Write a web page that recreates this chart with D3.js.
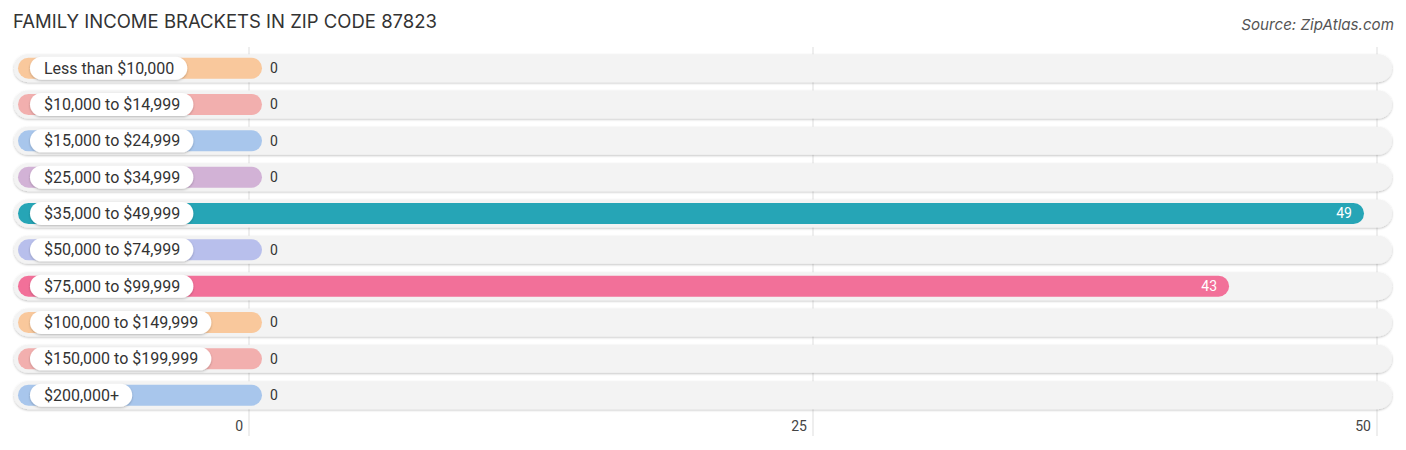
<!DOCTYPE html>
<html>
<head>
<meta charset="utf-8">
<script src="https://cdn.jsdelivr.net/npm/d3@7"></script>
<style>
  body { margin: 0; background: #fff; }
  svg { display: block; }
</style>
</head>
<body>
<svg id="chart"></svg>
<script>
const categories = [
  "Less than $10,000",
  "$10,000 to $14,999",
  "$15,000 to $24,999",
  "$25,000 to $34,999",
  "$35,000 to $49,999",
  "$50,000 to $74,999",
  "$75,000 to $99,999",
  "$100,000 to $149,999",
  "$150,000 to $199,999",
  "$200,000+"
]
const values = [0, 0, 0, 0, 49, 0, 43, 0, 0, 0]
const colors = ["#f9c89c", "#f2afae", "#a8c6ec", "#d2b2d6", "#26a5b6",
                "#b8bfec", "#f27099", "#f9c89c", "#f2afae", "#a8c6ec"]
const ticks = [0, 25, 50]

const W = 1406, H = 450

const svg = d3.select("#chart").attr("width", W).attr("height", H)

const defs = svg.append("defs")
const sh = defs.append("filter").attr("id", "shadow")
  .attr("x", "-5%").attr("y", "-40%").attr("width", "110%").attr("height", "180%")
sh.append("feDropShadow").attr("dx", 0).attr("dy", 1).attr("stdDeviation", 1.2)
  .attr("flood-color", "#000").attr("flood-opacity", 0.25)

// grid scale and bar scale (bars start a little right of the zero line)
const x = d3.scaleLinear().domain([0, 50]).range([249, 1377])
const xb = d3.scaleLinear().domain([0, 50]).range([262, 1386.5])
const y = d3.scaleBand().domain(categories).range([50, 413.3])

// fit a text node to a target width by adjusting its font size
function fitWidth(sel, target) {
  const fs = +sel.attr("font-size")
  const w = sel.node().getComputedTextLength()
  sel.attr("font-size", fs * target / w)
}

// title + source
svg.append("text")
  .attr("x", 13).attr("y", 28)
  .attr("font-family", "Inter, sans-serif")
  .attr("font-size", 18)
  .attr("fill", "#333")
  .text("FAMILY INCOME BRACKETS IN ZIP CODE 87823")
  .call(fitWidth, 424)

svg.append("text")
  .attr("x", 1394).attr("y", 30)
  .attr("text-anchor", "end")
  .attr("font-family", "Inter, sans-serif")
  .attr("font-style", "italic")
  .attr("font-size", 15)
  .attr("fill", "#555")
  .text("Source: ZipAtlas.com")
  .call(fitWidth, 153)

// gridlines
svg.append("g").selectAll("line")
  .data(ticks).enter().append("line")
  .attr("x1", d => x(d)).attr("x2", d => x(d))
  .attr("y1", 47).attr("y2", 436)
  .attr("stroke", "#ddd").attr("stroke-width", 1)

const rows = svg.append("g").selectAll("g")
  .data(categories).enter().append("g")
  .attr("transform", d => "translate(0," + (y(d) + y.bandwidth() / 2) + ")")

// background track
rows.append("rect")
  .attr("x", 14).attr("y", -14)
  .attr("width", 1392 - 14).attr("height", 28)
  .attr("rx", 14)
  .attr("fill", "#f3f3f3")
  .attr("filter", "url(#shadow)")

// bars
rows.append("rect")
  .attr("x", 18).attr("y", -10.5)
  .attr("width", (d, i) => xb(values[i]) - 18)
  .attr("height", 21)
  .attr("rx", 10.5)
  .attr("fill", (d, i) => colors[i])

// label pills
const lbl = rows.append("g")
lbl.append("text")
  .attr("x", 44).attr("y", 5.5)
  .attr("font-family", "Roboto, sans-serif")
  .attr("font-size", 16)
  .attr("fill", "#333")
  .text(d => d)
lbl.each(function() {
  const g = d3.select(this)
  const tw = g.select("text").node().getComputedTextLength()
  g.insert("rect", "text")
    .attr("x", 30).attr("y", -11.5)
    .attr("width", tw + 27).attr("height", 23)
    .attr("rx", 11.5)
    .attr("fill", "#fff")
    .attr("filter", "url(#shadow)")
})

// values
rows.append("text")
  .attr("x", (d, i) => values[i] > 5 ? xb(values[i]) - 12 : xb(values[i]) + 8)
  .attr("y", 5)
  .attr("text-anchor", (d, i) => values[i] > 5 ? "end" : "start")
  .attr("font-family", "Roboto, sans-serif")
  .attr("font-size", 14)
  .attr("fill", (d, i) => values[i] > 5 ? "#fff" : "#333")
  .text((d, i) => values[i])

// axis labels
svg.append("g").selectAll("text")
  .data(ticks).enter().append("text")
  .attr("x", d => x(d) - 6)
  .attr("y", 431)
  .attr("text-anchor", "end")
  .attr("font-family", "Roboto, sans-serif")
  .attr("font-size", 14)
  .attr("fill", "#444")
  .text(d => d)
</script>
</body>
</html>
